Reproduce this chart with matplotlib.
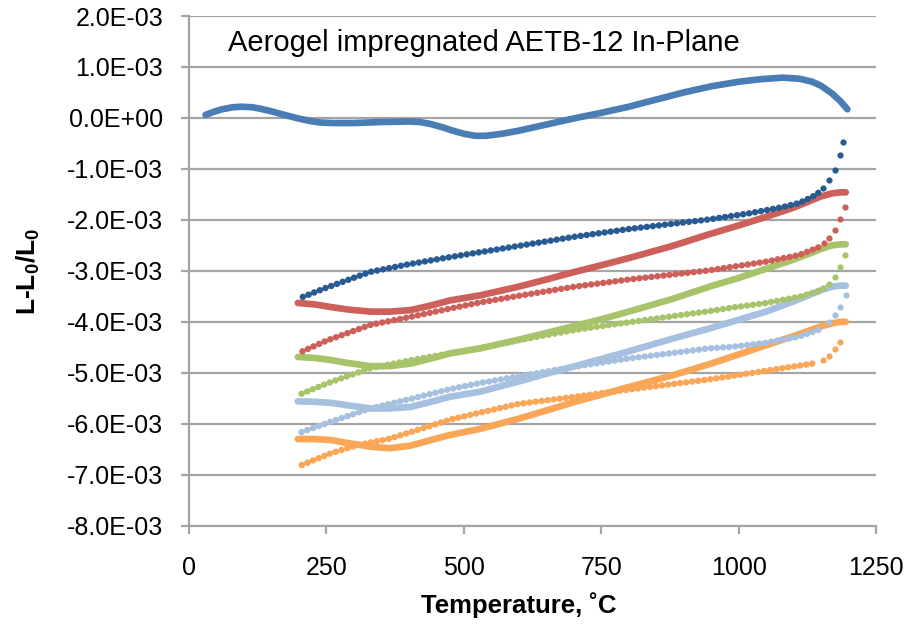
import numpy as np
import matplotlib
matplotlib.use("Agg")
import matplotlib.pyplot as plt

plt.rcParams["font.family"] = ["Liberation Sans", "DejaVu Sans"]
plt.rcParams["mathtext.fontset"] = "custom"
plt.rcParams["mathtext.rm"] = "Liberation Sans"
plt.rcParams["mathtext.bf"] = "Liberation Sans:bold"

# strain values are stored in units of 1e-3
SCALE = 1e-3

# first heating run, room temperature to 1200 C
heat1_T = [30, 45, 60, 80, 95, 115, 130, 150, 170, 195, 220, 240, 260, 300,
           350, 400, 420, 440, 460, 480, 500, 520, 540, 570, 600, 650, 700,
           750, 800, 850, 900, 950, 1000, 1040, 1080, 1110, 1134, 1150, 1170,
           1185, 1198]
heat1_v = [0.06, 0.12, 0.17, 0.21, 0.22, 0.21, 0.18, 0.13, 0.07, 0.00, -0.06,
           -0.09, -0.10, -0.10, -0.08, -0.07, -0.08, -0.12, -0.18, -0.25,
           -0.31, -0.35, -0.35, -0.31, -0.25, -0.13, -0.01, 0.10, 0.22, 0.36,
           0.50, 0.62, 0.71, 0.76, 0.79, 0.77, 0.71, 0.63, 0.48, 0.33, 0.17]

# cooling runs (1200 C down to 200 C)
cool1_T = [1190, 1184, 1176, 1165, 1154, 1145, 1134, 1110, 1080, 1020, 947,
           800, 702, 600, 475, 400, 330, 250, 198]
cool1_v = [-0.47, -0.73, -1.03, -1.22, -1.37, -1.47, -1.55, -1.67, -1.75,
           -1.87, -1.99, -2.18, -2.33, -2.51, -2.73, -2.87, -3.02, -3.33, -3.55]

cool2_T = [1193, 1185, 1175, 1165, 1155, 1145, 1110, 1050, 989, 947, 800,
           702, 600, 530, 475, 400, 330, 250, 198]
cool2_v = [-1.75, -1.99, -2.20, -2.35, -2.46, -2.54, -2.69, -2.82, -2.92,
           -2.99, -3.17, -3.31, -3.49, -3.62, -3.74, -3.91, -4.06, -4.37, -4.62]

cool3_T = [1193, 1185, 1175, 1165, 1154, 1145, 1110, 1050, 989, 947, 800,
           702, 600, 530, 475, 400, 330, 258, 198]
cool3_v = [-2.69, -2.93, -3.12, -3.25, -3.33, -3.40, -3.51, -3.63, -3.72,
           -3.79, -4.01, -4.16, -4.36, -4.52, -4.62, -4.76, -4.91, -5.18, -5.44]

cool4_T = [1195, 1185, 1175, 1165, 1145, 1110, 1050, 989, 947, 800, 702,
           600, 530, 475, 400, 330, 258, 198]
cool4_v = [-3.48, -3.71, -3.87, -4.00, -4.16, -4.29, -4.41, -4.49, -4.52,
           -4.72, -4.88, -5.07, -5.20, -5.32, -5.52, -5.70, -5.96, -6.19]

cool5_T = [1185, 1175, 1165, 1154, 1134, 1080, 1020, 947, 800, 702, 600,
           530, 475, 366, 306, 258, 198]
cool5_v = [-4.39, -4.54, -4.67, -4.74, -4.82, -4.91, -5.01, -5.13, -5.33,
           -5.47, -5.61, -5.78, -5.92, -6.29, -6.42, -6.58, -6.84]

# reheating runs (200 C up to 1200 C)
reheat_T = [198, 230, 258, 290, 330, 365, 403, 440, 475, 530, 600, 650, 702,
            750, 800, 880, 947, 1000, 1050, 1100, 1134, 1150, 1170, 1185, 1195]
heat2_v = [-3.63, -3.66, -3.71, -3.76, -3.80, -3.80, -3.77, -3.68, -3.58,
           -3.48, -3.31, -3.17, -3.02, -2.89, -2.75, -2.51, -2.28, -2.11,
           -1.94, -1.76, -1.61, -1.54, -1.48, -1.46, -1.46]
heat3_v = [-4.69, -4.71, -4.75, -4.81, -4.87, -4.87, -4.82, -4.72, -4.62,
           -4.52, -4.35, -4.22, -4.08, -3.95, -3.80, -3.55, -3.31, -3.14,
           -2.96, -2.78, -2.64, -2.57, -2.50, -2.48, -2.48]
heat4_v = [-5.56, -5.57, -5.59, -5.64, -5.70, -5.70, -5.67, -5.57, -5.47,
           -5.37, -5.17, -5.02, -4.87, -4.73, -4.58, -4.33, -4.13, -3.96,
           -3.80, -3.60, -3.45, -3.38, -3.31, -3.29, -3.29]
heat5_v = [-6.30, -6.30, -6.32, -6.38, -6.45, -6.48, -6.43, -6.32, -6.22,
           -6.10, -5.90, -5.74, -5.57, -5.43, -5.28, -5.05, -4.83, -4.64,
           -4.46, -4.28, -4.15, -4.09, -4.03, -4.00, -4.00]

x_ticks = [0, 250, 500, 750, 1000, 1250]
y_ticks = [2e-3, 1e-3, 0, -1e-3, -2e-3, -3e-3, -4e-3, -5e-3, -6e-3, -7e-3, -8e-3]
y_tick_labels = ["2.0E-03", "1.0E-03", "0.0E+00", "-1.0E-03", "-2.0E-03",
                 "-3.0E-03", "-4.0E-03", "-5.0E-03", "-6.0E-03", "-7.0E-03",
                 "-8.0E-03"]

C_HEAT1 = "#4A7DB4"
C_COOL1 = "#275B92"
C_RED = "#CD605A"
C_GREEN = "#A8C46A"
C_LBLUE = "#A6C0E0"
C_ORANGE = "#F9A657"

fig = plt.figure(figsize=(9.15, 6.25), dpi=100)
ax = fig.add_axes([0.2066, 0.1589, 0.7508, 0.8155])

GRID = "#A5A5A5"


def heating(T, v, color):
    ax.plot(T, np.asarray(v) * SCALE, color=color, lw=4.8,
            solid_capstyle="round", solid_joinstyle="round", zorder=3)


def cooling(T, v, color, n_tail):
    T = np.asarray(T)
    v = np.asarray(v) * SCALE
    # steep start of the run: separate readings
    ax.plot(T[:n_tail], v[:n_tail], linestyle="none", marker="o",
            markersize=4.5, markeredgewidth=0, color=color, zorder=4)
    # slow part of the run: closely spaced readings
    ax.plot(T[n_tail:], v[n_tail:], color=color, lw=4.7,
            linestyle=(0, (0.01, 0.92)), dash_capstyle="round",
            dash_joinstyle="round", zorder=4)


heating(heat1_T, heat1_v, C_HEAT1)
heating(reheat_T, heat2_v, C_RED)
heating(reheat_T, heat3_v, C_GREEN)
heating(reheat_T, heat4_v, C_LBLUE)
heating(reheat_T, heat5_v, C_ORANGE)

cooling(cool1_T, cool1_v, C_COOL1, 5)
cooling(cool2_T, cool2_v, C_RED, 5)
cooling(cool3_T, cool3_v, C_GREEN, 5)
cooling(cool4_T, cool4_v, C_LBLUE, 4)
cooling(cool5_T, cool5_v, C_ORANGE, 4)

ax.set_xlim(0, 1250)
ax.set_ylim(-8e-3, 2e-3)
ax.set_xticks(x_ticks)
ax.set_xticklabels([str(t) for t in x_ticks])
ax.set_yticks(y_ticks)
ax.set_yticklabels(y_tick_labels)

ax.yaxis.grid(True, color=GRID, lw=1.6, zorder=0)
ax.set_axisbelow(True)
for side in ("top", "right"):
    ax.spines[side].set_visible(False)
for side in ("left", "bottom"):
    ax.spines[side].set_color(GRID)
    ax.spines[side].set_linewidth(1.6)
ax.tick_params(axis="both", colors=GRID, width=1.6, length=5.5,
               labelcolor="black", labelsize=18)
ax.tick_params(axis="y", pad=13)
ax.tick_params(axis="x", pad=16)

ax.text(0.057, 0.947, "Aerogel impregnated AETB-12 In-Plane",
        transform=ax.transAxes, ha="left", va="center", fontsize=21)

ax.set_xlabel("Temperature, ˚C", fontsize=18.5, fontweight="bold")
ax.xaxis.label.set_va("center")
ax.xaxis.set_label_coords(0.48, -0.156)
ax.set_ylabel(r"L-L$_\mathbf{0}$/L$_\mathbf{0}$", fontsize=19,
              fontweight="bold")
ax.yaxis.label.set_va("center")
ax.yaxis.set_label_coords(-0.234, 0.5)

fig.savefig("out.png", dpi=100, facecolor="white")
